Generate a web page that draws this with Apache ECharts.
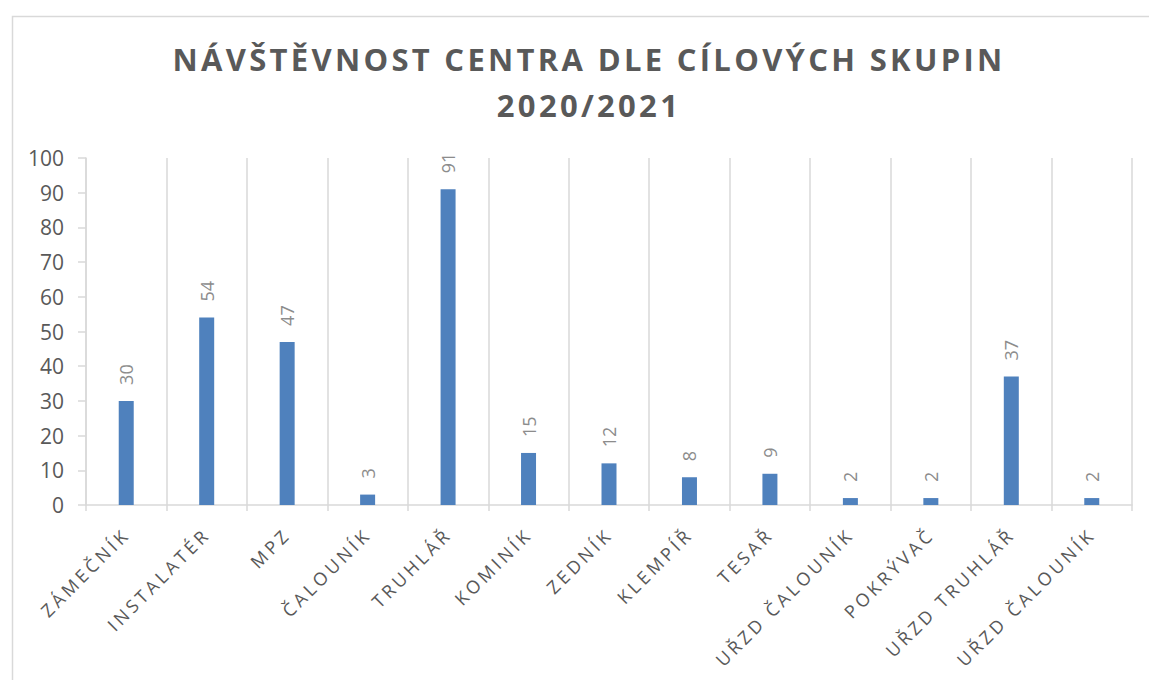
<!DOCTYPE html>
<html>
<head>
<meta charset="utf-8">
<script src="https://cdn.jsdelivr.net/npm/echarts@6/dist/echarts.min.js"></script>
<style>
html,body{margin:0;padding:0;background:#fff;}
#chart{width:1149px;height:680px;}
</style>
</head>
<body>
<div id="chart"></div>
<script>
const titleLines = ['NÁVŠTĚVNOST CENTRA DLE CÍLOVÝCH SKUPIN', '2020/2021'];
const categories = ['ZÁMEČNÍK', 'INSTALATÉR', 'MPZ', 'ČALOUNÍK', 'TRUHLÁŘ', 'KOMINÍK', 'ZEDNÍK', 'KLEMPÍŘ', 'TESAŘ', 'UŘZD ČALOUNÍK', 'POKRÝVAČ', 'UŘZD TRUHLÁŘ', 'UŘZD ČALOUNÍK'];
const values = [30, 54, 47, 3, 91, 15, 12, 8, 9, 2, 2, 37, 2];
const yTicks = [0, 10, 20, 30, 40, 50, 60, 70, 80, 90, 100];

const chart = echarts.init(document.getElementById('chart'), null, {renderer: 'svg'});
const font = '"Open Sans", "DejaVu Sans", sans-serif';
chart.setOption({
  animation: false,
  backgroundColor: '#ffffff',
  textStyle: {fontFamily: font},
  title: {
    text: titleLines.join('\n'),
    left: 584,
    textAlign: 'center',
    top: 31,
    textStyle: {fontSize: 31, fontWeight: 'bold', color: '#595959', lineHeight: 46, fontFamily: font}
  },
  graphic: [{
    type: 'rect', left: 10, top: 14, silent: true,
    shape: {width: 1160, height: 700},
    style: {fill: 'none', stroke: '#d9d9d9', lineWidth: 1.5}
  }],
  grid: {left: 86, right: 17, top: 158, bottom: 175, containLabel: false},
  xAxis: {
    type: 'category',
    data: categories,
    boundaryGap: true,
    axisLine: {show: true, lineStyle: {color: '#d9d9d9', width: 1.5}},
    axisTick: {show: true, length: 6, lineStyle: {color: '#d9d9d9', width: 1.5}},
    splitLine: {show: true, lineStyle: {color: '#d9d9d9', width: 1.5}},
    axisLabel: {rotate: 45, fontSize: 18, color: '#595959', margin: 26, interval: 0, fontFamily: font}
  },
  yAxis: {
    type: 'value',
    min: yTicks[0],
    max: yTicks[yTicks.length - 1],
    interval: 10,
    axisLine: {show: true, lineStyle: {color: '#d9d9d9', width: 1.5}},
    axisTick: {show: true, length: 8, lineStyle: {color: '#d9d9d9', width: 1.5}},
    splitLine: {show: false},
    axisLabel: {fontSize: 21, color: '#595959', margin: 22, fontFamily: font}
  },
  series: [{
    type: 'bar',
    data: values,
    barWidth: 15,
    itemStyle: {color: '#4f81bd'},
    label: {
      show: true, position: 'top', rotate: 90, align: 'left', verticalAlign: 'middle',
      distance: 16, fontSize: 18, color: '#8c8c8c', fontFamily: font
    }
  }]
});

function applySpacing() {
  const texts = document.querySelectorAll('#chart text');
  texts.forEach(t => {
    const s = t.textContent;
    if (titleLines.includes(s)) t.style.letterSpacing = '3.3px';
    else if (categories.includes(s)) t.style.letterSpacing = '3.5px';
  });
}
chart.on('finished', applySpacing);
applySpacing();
</script>
</body>
</html>
